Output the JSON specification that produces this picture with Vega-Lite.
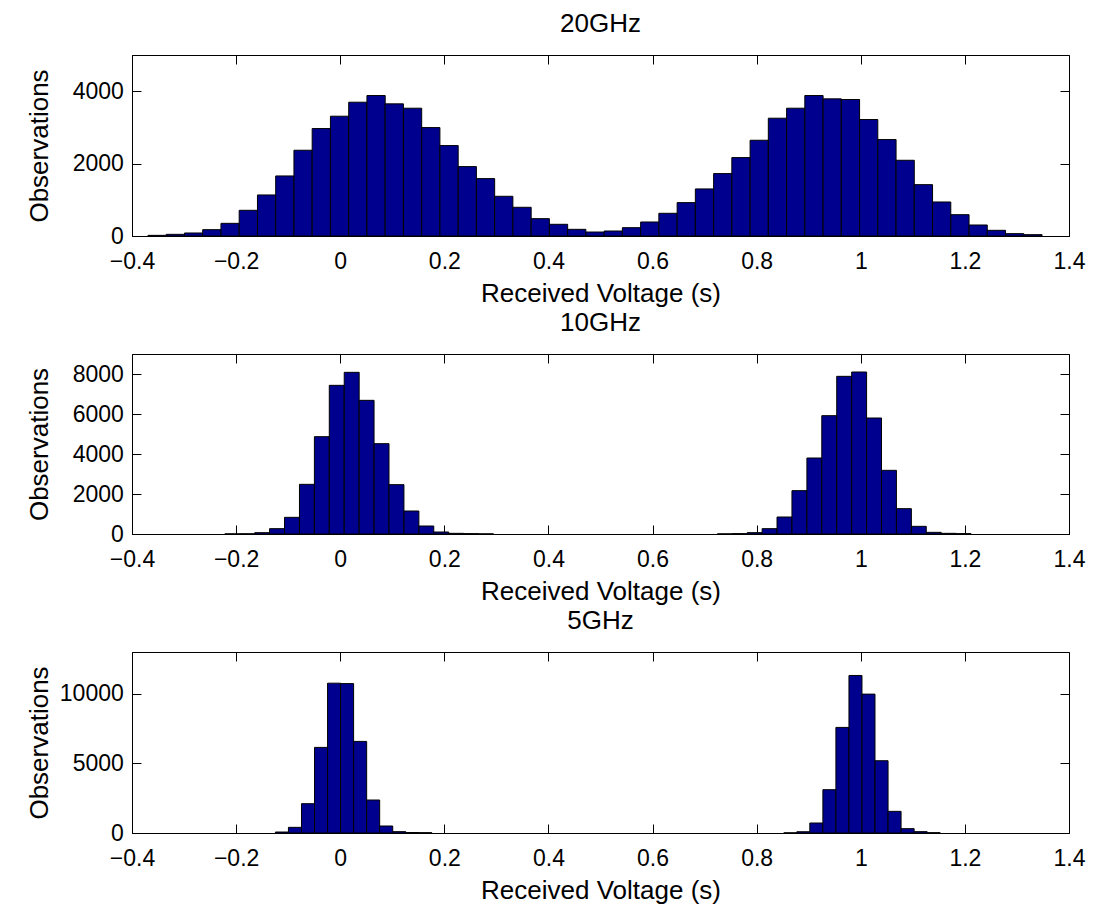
{
  "$schema": "https://vega.github.io/schema/vega-lite/v6.json",
  "padding": {"left": 25, "top": 10, "right": 5, "bottom": 0},
  "background": "white",
  "datasets": {
    "d20": [
      {"lo": -0.3693, "hi": -0.3343, "n": 18},
      {"lo": -0.3343, "hi": -0.2992, "n": 46},
      {"lo": -0.2992, "hi": -0.2642, "n": 83},
      {"lo": -0.2642, "hi": -0.2291, "n": 175},
      {"lo": -0.2291, "hi": -0.1941, "n": 350},
      {"lo": -0.1941, "hi": -0.1590, "n": 710},
      {"lo": -0.1590, "hi": -0.1240, "n": 1134},
      {"lo": -0.1240, "hi": -0.0889, "n": 1659},
      {"lo": -0.0889, "hi": -0.0539, "n": 2369},
      {"lo": -0.0539, "hi": -0.0188, "n": 2968},
      {"lo": -0.0188, "hi": 0.0163, "n": 3309},
      {"lo": 0.0163, "hi": 0.0513, "n": 3696},
      {"lo": 0.0513, "hi": 0.0864, "n": 3880},
      {"lo": 0.0864, "hi": 0.1214, "n": 3650},
      {"lo": 0.1214, "hi": 0.1565, "n": 3530},
      {"lo": 0.1565, "hi": 0.1915, "n": 2995},
      {"lo": 0.1915, "hi": 0.2266, "n": 2498},
      {"lo": 0.2266, "hi": 0.2616, "n": 1917},
      {"lo": 0.2616, "hi": 0.2967, "n": 1585},
      {"lo": 0.2967, "hi": 0.3317, "n": 1097},
      {"lo": 0.3317, "hi": 0.3668, "n": 793},
      {"lo": 0.3668, "hi": 0.4018, "n": 479},
      {"lo": 0.4018, "hi": 0.4369, "n": 323},
      {"lo": 0.4369, "hi": 0.4719, "n": 184},
      {"lo": 0.4719, "hi": 0.5070, "n": 110},
      {"lo": 0.5070, "hi": 0.5420, "n": 138},
      {"lo": 0.5420, "hi": 0.5771, "n": 230},
      {"lo": 0.5771, "hi": 0.6121, "n": 387},
      {"lo": 0.6121, "hi": 0.6472, "n": 627},
      {"lo": 0.6472, "hi": 0.6822, "n": 922},
      {"lo": 0.6822, "hi": 0.7173, "n": 1300},
      {"lo": 0.7173, "hi": 0.7523, "n": 1724},
      {"lo": 0.7523, "hi": 0.7874, "n": 2166},
      {"lo": 0.7874, "hi": 0.8224, "n": 2645},
      {"lo": 0.8224, "hi": 0.8575, "n": 3254},
      {"lo": 0.8575, "hi": 0.8925, "n": 3530},
      {"lo": 0.8925, "hi": 0.9276, "n": 3880},
      {"lo": 0.9276, "hi": 0.9626, "n": 3788},
      {"lo": 0.9626, "hi": 0.9977, "n": 3770},
      {"lo": 0.9977, "hi": 1.0327, "n": 3217},
      {"lo": 1.0327, "hi": 1.0678, "n": 2664},
      {"lo": 1.0678, "hi": 1.1028, "n": 2092},
      {"lo": 1.1028, "hi": 1.1379, "n": 1419},
      {"lo": 1.1379, "hi": 1.1729, "n": 940},
      {"lo": 1.1729, "hi": 1.2080, "n": 589},
      {"lo": 1.2080, "hi": 1.2430, "n": 304},
      {"lo": 1.2430, "hi": 1.2781, "n": 157},
      {"lo": 1.2781, "hi": 1.3131, "n": 65},
      {"lo": 1.3131, "hi": 1.3482, "n": 37}
    ],
    "d10": [
      {"lo": -0.2217, "hi": -0.1930, "n": 5},
      {"lo": -0.1930, "hi": -0.1643, "n": 10},
      {"lo": -0.1643, "hi": -0.1357, "n": 67},
      {"lo": -0.1357, "hi": -0.1070, "n": 267},
      {"lo": -0.1070, "hi": -0.0783, "n": 833},
      {"lo": -0.0783, "hi": -0.0496, "n": 2483},
      {"lo": -0.0496, "hi": -0.0210, "n": 4867},
      {"lo": -0.0210, "hi": 0.0077, "n": 7433},
      {"lo": 0.0077, "hi": 0.0364, "n": 8083},
      {"lo": 0.0364, "hi": 0.0650, "n": 6683},
      {"lo": 0.0650, "hi": 0.0937, "n": 4517},
      {"lo": 0.0937, "hi": 0.1224, "n": 2467},
      {"lo": 0.1224, "hi": 0.1511, "n": 1150},
      {"lo": 0.1511, "hi": 0.1797, "n": 400},
      {"lo": 0.1797, "hi": 0.2084, "n": 100},
      {"lo": 0.2084, "hi": 0.2371, "n": 33},
      {"lo": 0.2371, "hi": 0.2657, "n": 17},
      {"lo": 0.2657, "hi": 0.2944, "n": 5},
      {"lo": 0.7245, "hi": 0.7531, "n": 5},
      {"lo": 0.7531, "hi": 0.7818, "n": 17},
      {"lo": 0.7818, "hi": 0.8105, "n": 67},
      {"lo": 0.8105, "hi": 0.8391, "n": 267},
      {"lo": 0.8391, "hi": 0.8678, "n": 850},
      {"lo": 0.8678, "hi": 0.8965, "n": 2167},
      {"lo": 0.8965, "hi": 0.9251, "n": 3800},
      {"lo": 0.9251, "hi": 0.9538, "n": 5917},
      {"lo": 0.9538, "hi": 0.9825, "n": 7883},
      {"lo": 0.9825, "hi": 1.0112, "n": 8100},
      {"lo": 1.0112, "hi": 1.0398, "n": 5800},
      {"lo": 1.0398, "hi": 1.0685, "n": 3183},
      {"lo": 1.0685, "hi": 1.0972, "n": 1267},
      {"lo": 1.0972, "hi": 1.1258, "n": 383},
      {"lo": 1.1258, "hi": 1.1545, "n": 83},
      {"lo": 1.1545, "hi": 1.1832, "n": 33},
      {"lo": 1.1832, "hi": 1.2118, "n": 17}
    ],
    "d5": [
      {"lo": -0.1245, "hi": -0.0995, "n": 70},
      {"lo": -0.0995, "hi": -0.0744, "n": 407},
      {"lo": -0.0744, "hi": -0.0494, "n": 2105},
      {"lo": -0.0494, "hi": -0.0243, "n": 6148},
      {"lo": -0.0243, "hi": 0.0007, "n": 10760},
      {"lo": 0.0007, "hi": 0.0257, "n": 10730},
      {"lo": 0.0257, "hi": 0.0508, "n": 6578},
      {"lo": 0.0508, "hi": 0.0758, "n": 2368},
      {"lo": 0.0758, "hi": 0.1009, "n": 502},
      {"lo": 0.1009, "hi": 0.1259, "n": 96},
      {"lo": 0.1259, "hi": 0.1509, "n": 35},
      {"lo": 0.1509, "hi": 0.1760, "n": 20},
      {"lo": 0.8521, "hi": 0.8771, "n": 10},
      {"lo": 0.8771, "hi": 0.9021, "n": 90},
      {"lo": 0.9021, "hi": 0.9272, "n": 718},
      {"lo": 0.9272, "hi": 0.9522, "n": 3110},
      {"lo": 0.9522, "hi": 0.9773, "n": 7583},
      {"lo": 0.9773, "hi": 1.0023, "n": 11314},
      {"lo": 1.0023, "hi": 1.0273, "n": 9975},
      {"lo": 1.0273, "hi": 1.0524, "n": 5191},
      {"lo": 1.0524, "hi": 1.0774, "n": 1555},
      {"lo": 1.0774, "hi": 1.1025, "n": 311},
      {"lo": 1.1025, "hi": 1.1275, "n": 96},
      {"lo": 1.1275, "hi": 1.1525, "n": 20}
    ]
  },
  "vconcat": [
    {
      "title": {"text": "20GHz"},
      "width": 937,
      "height": 181,
      "data": {"name": "d20"},
      "layer": [
        {
          "mark": {"type": "rect", "fill": "#00008F", "stroke": "black", "strokeWidth": 1},
          "encoding": {
            "x": {"field": "lo", "type": "quantitative", "scale": {"domain": [-0.4, 1.4], "nice": false, "zero": false},
                  "axis": {"orient": "bottom", "values": [-0.4, -0.2, 0, 0.2, 0.4, 0.6, 0.8, 1, 1.2, 1.4], "format": "~g", "title": "Received Voltage (s)", "labelBaseline": "alphabetic", "labelPadding": 41.6, "labelFlush": false, "titleBaseline": "alphabetic", "titleY": 65.3}},
            "x2": {"field": "hi"},
            "y": {"field": "n", "type": "quantitative", "scale": {"domain": [0, 5000], "nice": false},
                  "axis": {"orient": "left", "values": [0, 2000, 4000], "format": "d", "title": "Observations", "labelPadding": 17.7, "titleBaseline": "alphabetic", "titleX": -85}}
          }
        },
        {
          "mark": {"type": "rect", "opacity": 0},
          "encoding": {
            "x": {"field": "lo", "type": "quantitative", "axis": {"orient": "top", "values": [-0.4, -0.2, 0, 0.2, 0.4, 0.6, 0.8, 1, 1.2, 1.4], "labels": false, "title": null, "domain": false}},
            "x2": {"field": "hi"},
            "y": {"field": "n", "type": "quantitative", "axis": {"orient": "right", "values": [0, 2000, 4000], "labels": false, "title": null, "domain": false}}
          }
        }
      ],
      "resolve": {"axis": {"x": "independent", "y": "independent"}}
    },
    {
      "title": {"text": "10GHz"},
      "width": 937,
      "height": 180,
      "data": {"name": "d10"},
      "layer": [
        {
          "mark": {"type": "rect", "fill": "#00008F", "stroke": "black", "strokeWidth": 1},
          "encoding": {
            "x": {"field": "lo", "type": "quantitative", "scale": {"domain": [-0.4, 1.4], "nice": false, "zero": false},
                  "axis": {"orient": "bottom", "values": [-0.4, -0.2, 0, 0.2, 0.4, 0.6, 0.8, 1, 1.2, 1.4], "format": "~g", "title": "Received Voltage (s)", "labelBaseline": "alphabetic", "labelPadding": 41.6, "labelFlush": false, "titleBaseline": "alphabetic", "titleY": 65.3}},
            "x2": {"field": "hi"},
            "y": {"field": "n", "type": "quantitative", "scale": {"domain": [0, 9000], "nice": false},
                  "axis": {"orient": "left", "values": [0, 2000, 4000, 6000, 8000], "format": "d", "title": "Observations", "labelPadding": 17.7, "titleBaseline": "alphabetic", "titleX": -85}}
          }
        },
        {
          "mark": {"type": "rect", "opacity": 0},
          "encoding": {
            "x": {"field": "lo", "type": "quantitative", "axis": {"orient": "top", "values": [-0.4, -0.2, 0, 0.2, 0.4, 0.6, 0.8, 1, 1.2, 1.4], "labels": false, "title": null, "domain": false}},
            "x2": {"field": "hi"},
            "y": {"field": "n", "type": "quantitative", "axis": {"orient": "right", "values": [0, 2000, 4000, 6000, 8000], "labels": false, "title": null, "domain": false}}
          }
        }
      ],
      "resolve": {"axis": {"x": "independent", "y": "independent"}}
    },
    {
      "title": {"text": "5GHz"},
      "width": 937,
      "height": 181,
      "data": {"name": "d5"},
      "layer": [
        {
          "mark": {"type": "rect", "fill": "#00008F", "stroke": "black", "strokeWidth": 1},
          "encoding": {
            "x": {"field": "lo", "type": "quantitative", "scale": {"domain": [-0.4, 1.4], "nice": false, "zero": false},
                  "axis": {"orient": "bottom", "values": [-0.4, -0.2, 0, 0.2, 0.4, 0.6, 0.8, 1, 1.2, 1.4], "format": "~g", "title": "Received Voltage (s)", "labelBaseline": "alphabetic", "labelPadding": 41.6, "labelFlush": false, "titleBaseline": "alphabetic", "titleY": 65.3}},
            "x2": {"field": "hi"},
            "y": {"field": "n", "type": "quantitative", "scale": {"domain": [0, 13000], "nice": false},
                  "axis": {"orient": "left", "values": [0, 5000, 10000], "format": "d", "title": "Observations", "labelPadding": 17.7, "titleBaseline": "alphabetic", "titleX": -85}}
          }
        },
        {
          "mark": {"type": "rect", "opacity": 0},
          "encoding": {
            "x": {"field": "lo", "type": "quantitative", "axis": {"orient": "top", "values": [-0.4, -0.2, 0, 0.2, 0.4, 0.6, 0.8, 1, 1.2, 1.4], "labels": false, "title": null, "domain": false}},
            "x2": {"field": "hi"},
            "y": {"field": "n", "type": "quantitative", "axis": {"orient": "right", "values": [0, 5000, 10000], "labels": false, "title": null, "domain": false}}
          }
        }
      ],
      "resolve": {"axis": {"x": "independent", "y": "independent"}}
    }
  ],
  "spacing": 118,
  "bounds": "flush",
  "config": {
    "font": "Liberation Sans",
    "view": {"stroke": "black", "strokeWidth": 1},
    "axis": {
      "grid": false,
      "domainColor": "black",
      "domainWidth": 1,
      "tickColor": "black",
      "tickSize": -9,
      "tickWidth": 1,
      "labelFont": "Liberation Sans",
      "labelFontSize": 23,
      "labelColor": "black",
      "titleFont": "Liberation Sans",
      "titleFontSize": 26,
      "titleFontWeight": "normal",
      "titleColor": "black"
    },
    "title": {
      "font": "Liberation Sans",
      "fontSize": 26,
      "fontWeight": "normal",
      "color": "black",
      "baseline": "alphabetic",
      "offset": 18
    }
  }
}
